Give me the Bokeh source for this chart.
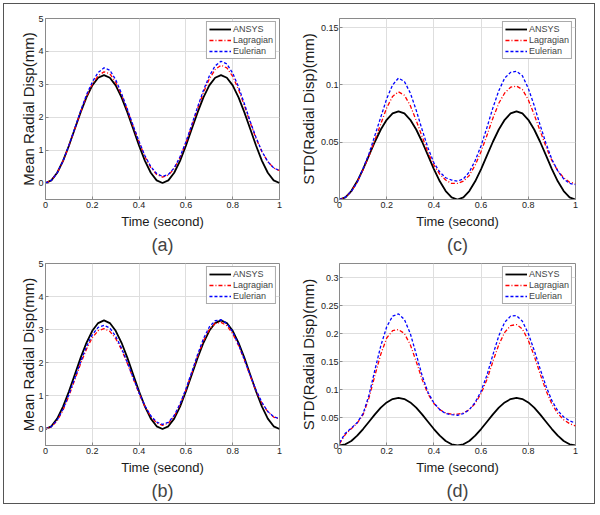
from bokeh.plotting import figure
from bokeh.models import Range1d, FixedTicker, Title, Legend, LegendItem
from bokeh.layouts import row, column
from bokeh.embed import file_html
from bokeh.resources import INLINE

# ---------------- data ----------------
t = [0.0, 0.025, 0.05, 0.075, 0.1, 0.125, 0.15, 0.175, 0.2, 0.225, 0.25,
     0.275, 0.3, 0.325, 0.35, 0.375, 0.4, 0.425, 0.45, 0.475, 0.5,
     0.525, 0.55, 0.575, 0.6, 0.625, 0.65, 0.675, 0.7, 0.725, 0.75,
     0.775, 0.8, 0.825, 0.85, 0.875, 0.9, 0.925, 0.95, 0.975, 1.0]

# panel (a)
a_ansys = [0, 0.080, 0.313, 0.676, 1.133, 1.640, 2.147, 2.604, 2.967, 3.200, 3.280,
           3.200, 2.967, 2.604, 2.147, 1.640, 1.133, 0.676, 0.313, 0.080, 0,
           0.080, 0.313, 0.676, 1.133, 1.640, 2.147, 2.604, 2.967, 3.200, 3.280,
           3.200, 2.967, 2.604, 2.147, 1.640, 1.133, 0.676, 0.313, 0.080, 0]
a_lag = [0, 0.08, 0.31, 0.67, 1.13, 1.64, 2.16, 2.63, 3.00, 3.26, 3.38,
         3.32, 3.06, 2.68, 2.22, 1.72, 1.24, 0.80, 0.47, 0.26, 0.18,
         0.24, 0.44, 0.78, 1.22, 1.73, 2.26, 2.75, 3.16, 3.45, 3.58,
         3.50, 3.24, 2.84, 2.35, 1.83, 1.35, 0.95, 0.65, 0.46, 0.38]
a_eul = [0, 0.08, 0.31, 0.67, 1.14, 1.66, 2.19, 2.68, 3.07, 3.36, 3.50,
         3.43, 3.14, 2.72, 2.24, 1.74, 1.26, 0.83, 0.50, 0.29, 0.20,
         0.26, 0.46, 0.80, 1.25, 1.77, 2.31, 2.82, 3.25, 3.56, 3.70,
         3.62, 3.34, 2.92, 2.41, 1.87, 1.38, 0.96, 0.65, 0.46, 0.38]

# panel (b)
b_ansys = a_ansys
b_lag = [0, 0.06, 0.25, 0.57, 1.00, 1.48, 1.97, 2.41, 2.76, 2.97, 3.03,
         2.95, 2.73, 2.40, 1.98, 1.52, 1.07, 0.68, 0.38, 0.18, 0.11,
         0.17, 0.38, 0.73, 1.18, 1.68, 2.20, 2.66, 3.00, 3.19, 3.22,
         3.12, 2.88, 2.52, 2.08, 1.60, 1.15, 0.78, 0.52, 0.36, 0.30]
b_eul = [0, 0.07, 0.27, 0.60, 1.04, 1.53, 2.03, 2.49, 2.85, 3.07, 3.13,
         3.05, 2.80, 2.44, 2.01, 1.54, 1.09, 0.70, 0.40, 0.21, 0.14,
         0.20, 0.41, 0.76, 1.21, 1.72, 2.25, 2.73, 3.08, 3.27, 3.30,
         3.19, 2.93, 2.55, 2.10, 1.62, 1.17, 0.80, 0.53, 0.37, 0.31]

# panel (c)
c_ansys = [0, 0.0019, 0.0074, 0.0159, 0.0266, 0.0385, 0.0504, 0.0611, 0.0696, 0.0751, 0.0770,
           0.0751, 0.0696, 0.0611, 0.0504, 0.0385, 0.0266, 0.0159, 0.0074, 0.0019, 0,
           0.0019, 0.0074, 0.0159, 0.0266, 0.0385, 0.0504, 0.0611, 0.0696, 0.0751, 0.0770,
           0.0751, 0.0696, 0.0611, 0.0504, 0.0385, 0.0266, 0.0159, 0.0074, 0.0019, 0]
c_lag = [0.000, 0.002, 0.007, 0.015, 0.026, 0.038, 0.052, 0.066, 0.080, 0.090, 0.094,
         0.091, 0.082, 0.069, 0.055, 0.041, 0.030, 0.022, 0.017, 0.014, 0.014,
         0.016, 0.021, 0.030, 0.042, 0.056, 0.071, 0.084, 0.093, 0.098, 0.099,
         0.096, 0.087, 0.074, 0.060, 0.046, 0.034, 0.025, 0.019, 0.015, 0.014]
c_eul = [0.000, 0.002, 0.007, 0.015, 0.027, 0.040, 0.056, 0.072, 0.088, 0.100, 0.106,
         0.103, 0.093, 0.078, 0.061, 0.045, 0.032, 0.024, 0.019, 0.017, 0.016,
         0.018, 0.024, 0.034, 0.047, 0.063, 0.080, 0.095, 0.106, 0.111, 0.112,
         0.108, 0.097, 0.082, 0.065, 0.049, 0.035, 0.025, 0.018, 0.014, 0.013]

# panel (d)
d_ansys = [0, 0.0021, 0.0081, 0.0175, 0.0294, 0.0425, 0.0556, 0.0675, 0.0769, 0.0829, 0.0850,
           0.0829, 0.0769, 0.0675, 0.0556, 0.0425, 0.0294, 0.0175, 0.0081, 0.0021, 0,
           0.0021, 0.0081, 0.0175, 0.0294, 0.0425, 0.0556, 0.0675, 0.0769, 0.0829, 0.0850,
           0.0829, 0.0769, 0.0675, 0.0556, 0.0425, 0.0294, 0.0175, 0.0081, 0.0021, 0]
d_lag = [0.003, 0.020, 0.030, 0.040, 0.055, 0.085, 0.125, 0.163, 0.192, 0.205, 0.207,
         0.200, 0.180, 0.150, 0.118, 0.092, 0.075, 0.064, 0.058, 0.056, 0.056,
         0.058, 0.064, 0.075, 0.093, 0.118, 0.150, 0.180, 0.202, 0.214, 0.216,
         0.208, 0.188, 0.160, 0.128, 0.098, 0.074, 0.057, 0.046, 0.039, 0.035]
d_eul = [0.005, 0.022, 0.031, 0.041, 0.057, 0.090, 0.135, 0.178, 0.212, 0.231, 0.235,
         0.225, 0.200, 0.163, 0.125, 0.095, 0.076, 0.064, 0.057, 0.055, 0.054,
         0.057, 0.064, 0.077, 0.097, 0.126, 0.162, 0.196, 0.220, 0.231, 0.232,
         0.222, 0.200, 0.170, 0.137, 0.106, 0.080, 0.062, 0.051, 0.044, 0.040]

x_ticks = [0, 0.2, 0.4, 0.6, 0.8, 1]
x_tick_labels = ["0", "0.2", "0.4", "0.6", "0.8", "1"]
mean_ticks = [0, 1, 2, 3, 4, 5]
mean_tick_labels = ["0", "1", "2", "3", "4", "5"]
c_ticks = [0, 0.05, 0.1, 0.15]
c_tick_labels = ["0", "0.05", "0.1", "0.15"]
d_ticks = [0, 0.05, 0.1, 0.15, 0.2, 0.25, 0.3]
d_tick_labels = ["0", "0.05", "0.1", "0.15", "0.2", "0.25", "0.3"]
series_names = ["ANSYS", "Lagragian", "Eulerian"]
x_label = "Time (second)"
mean_label = "Mean Radial Disp(mm)"
std_label = "STD(Radial Disp)(mm)"

FONT = "Liberation Sans"


def make_panel(letter, ylabel, yr, yticks, ylabels, ys, width, height,
               bl, br, bt, bb, ylab_standoff, ytick_standoff):
    p = figure(width=width, height=height, x_range=Range1d(0, 1),
               y_range=Range1d(*yr), output_backend="svg",
               toolbar_location=None, min_border_left=bl, min_border_right=br,
               min_border_top=bt, min_border_bottom=bb)
    p.background_fill_color = "white"
    p.border_fill_color = "white"
    p.outline_line_color = "#8a8a8a"
    p.outline_line_width = 1

    p.xaxis.ticker = FixedTicker(ticks=x_ticks)
    p.xaxis.major_label_overrides = {k: v for k, v in zip(x_ticks, x_tick_labels)}
    p.yaxis.ticker = FixedTicker(ticks=yticks)
    p.yaxis.major_label_overrides = {k: v for k, v in zip(yticks, ylabels)}
    for ax in (p.xaxis[0], p.yaxis[0]):
        ax.axis_line_color = "#8a8a8a"
        ax.major_tick_line_color = "#8a8a8a"
        ax.major_tick_in = 3
        ax.major_tick_out = 0
        ax.minor_tick_line_color = None
        ax.major_label_text_font = FONT
        ax.major_label_text_font_size = "9px"
        ax.major_label_text_color = "#222222"
        ax.axis_label_text_font = FONT
        ax.axis_label_text_font_style = "normal"
        ax.axis_label_text_color = "#1a1a1a"
    p.xaxis.major_label_standoff = 2
    p.yaxis.major_label_standoff = ytick_standoff
    p.xaxis.axis_label = x_label
    p.xaxis.axis_label_text_font_size = "13px"
    p.xaxis.axis_label_standoff = 3
    p.yaxis.axis_label = ylabel
    p.yaxis.axis_label_text_font_size = "15px"
    p.yaxis.axis_label_standoff = ylab_standoff

    p.xgrid.grid_line_color = "#dedede"
    p.ygrid.grid_line_color = "#dedede"

    r1 = p.line(t, ys[0], line_color="black", line_width=1.8)
    r2 = p.line(t, ys[1], line_color="#ff0000", line_width=1.3, line_dash="4 2 1 2")
    r3 = p.line(t, ys[2], line_color="#0000ff", line_width=1.3, line_dash="3 2")

    leg = Legend(items=[LegendItem(label=series_names[0], renderers=[r1]),
                        LegendItem(label=series_names[1], renderers=[r2]),
                        LegendItem(label=series_names[2], renderers=[r3])],
                 location="top_right")
    leg.label_text_font = FONT
    leg.label_text_font_size = "9px"
    leg.label_height = 10
    leg.glyph_height = 10
    leg.glyph_width = 22
    leg.label_standoff = 2
    leg.spacing = 1
    leg.padding = 2
    leg.margin = 3
    leg.border_line_color = "#555555"
    leg.background_fill_alpha = 1
    p.add_layout(leg)

    p.add_layout(Title(text=letter, align="center", text_font=FONT,
                       text_font_size="18px", text_font_style="normal",
                       standoff=2), "below")
    return p


pa = make_panel("(a)", mean_label, (-0.5, 5), mean_ticks, mean_tick_labels,
                [a_ansys, a_lag, a_eul], 292, 255, 41, 17, 14, 58, -2, 2)
pc = make_panel("(c)", std_label, (0, 0.158), c_ticks, c_tick_labels,
                [c_ansys, c_lag, c_eul], 298, 255, 41, 19, 11, 60, 1, 1)
pb = make_panel("(b)", mean_label, (-0.5, 5), mean_ticks, mean_tick_labels,
                [b_ansys, b_lag, b_eul], 292, 244, 41, 17, 4, 57, -2, 2)
pd = make_panel("(d)", std_label, (0, 0.325), d_ticks, d_tick_labels,
                [d_ansys, d_lag, d_eul], 298, 244, 41, 19, 3, 58, 1, 1)

layout = column(row(pa, pc), row(pb, pd),
                styles={"border": "1px solid #555555",
                        "margin-left": "3px", "margin-top": "3px",
                        "background-color": "white"})

open("out.html", "w").write(file_html(layout, INLINE))
